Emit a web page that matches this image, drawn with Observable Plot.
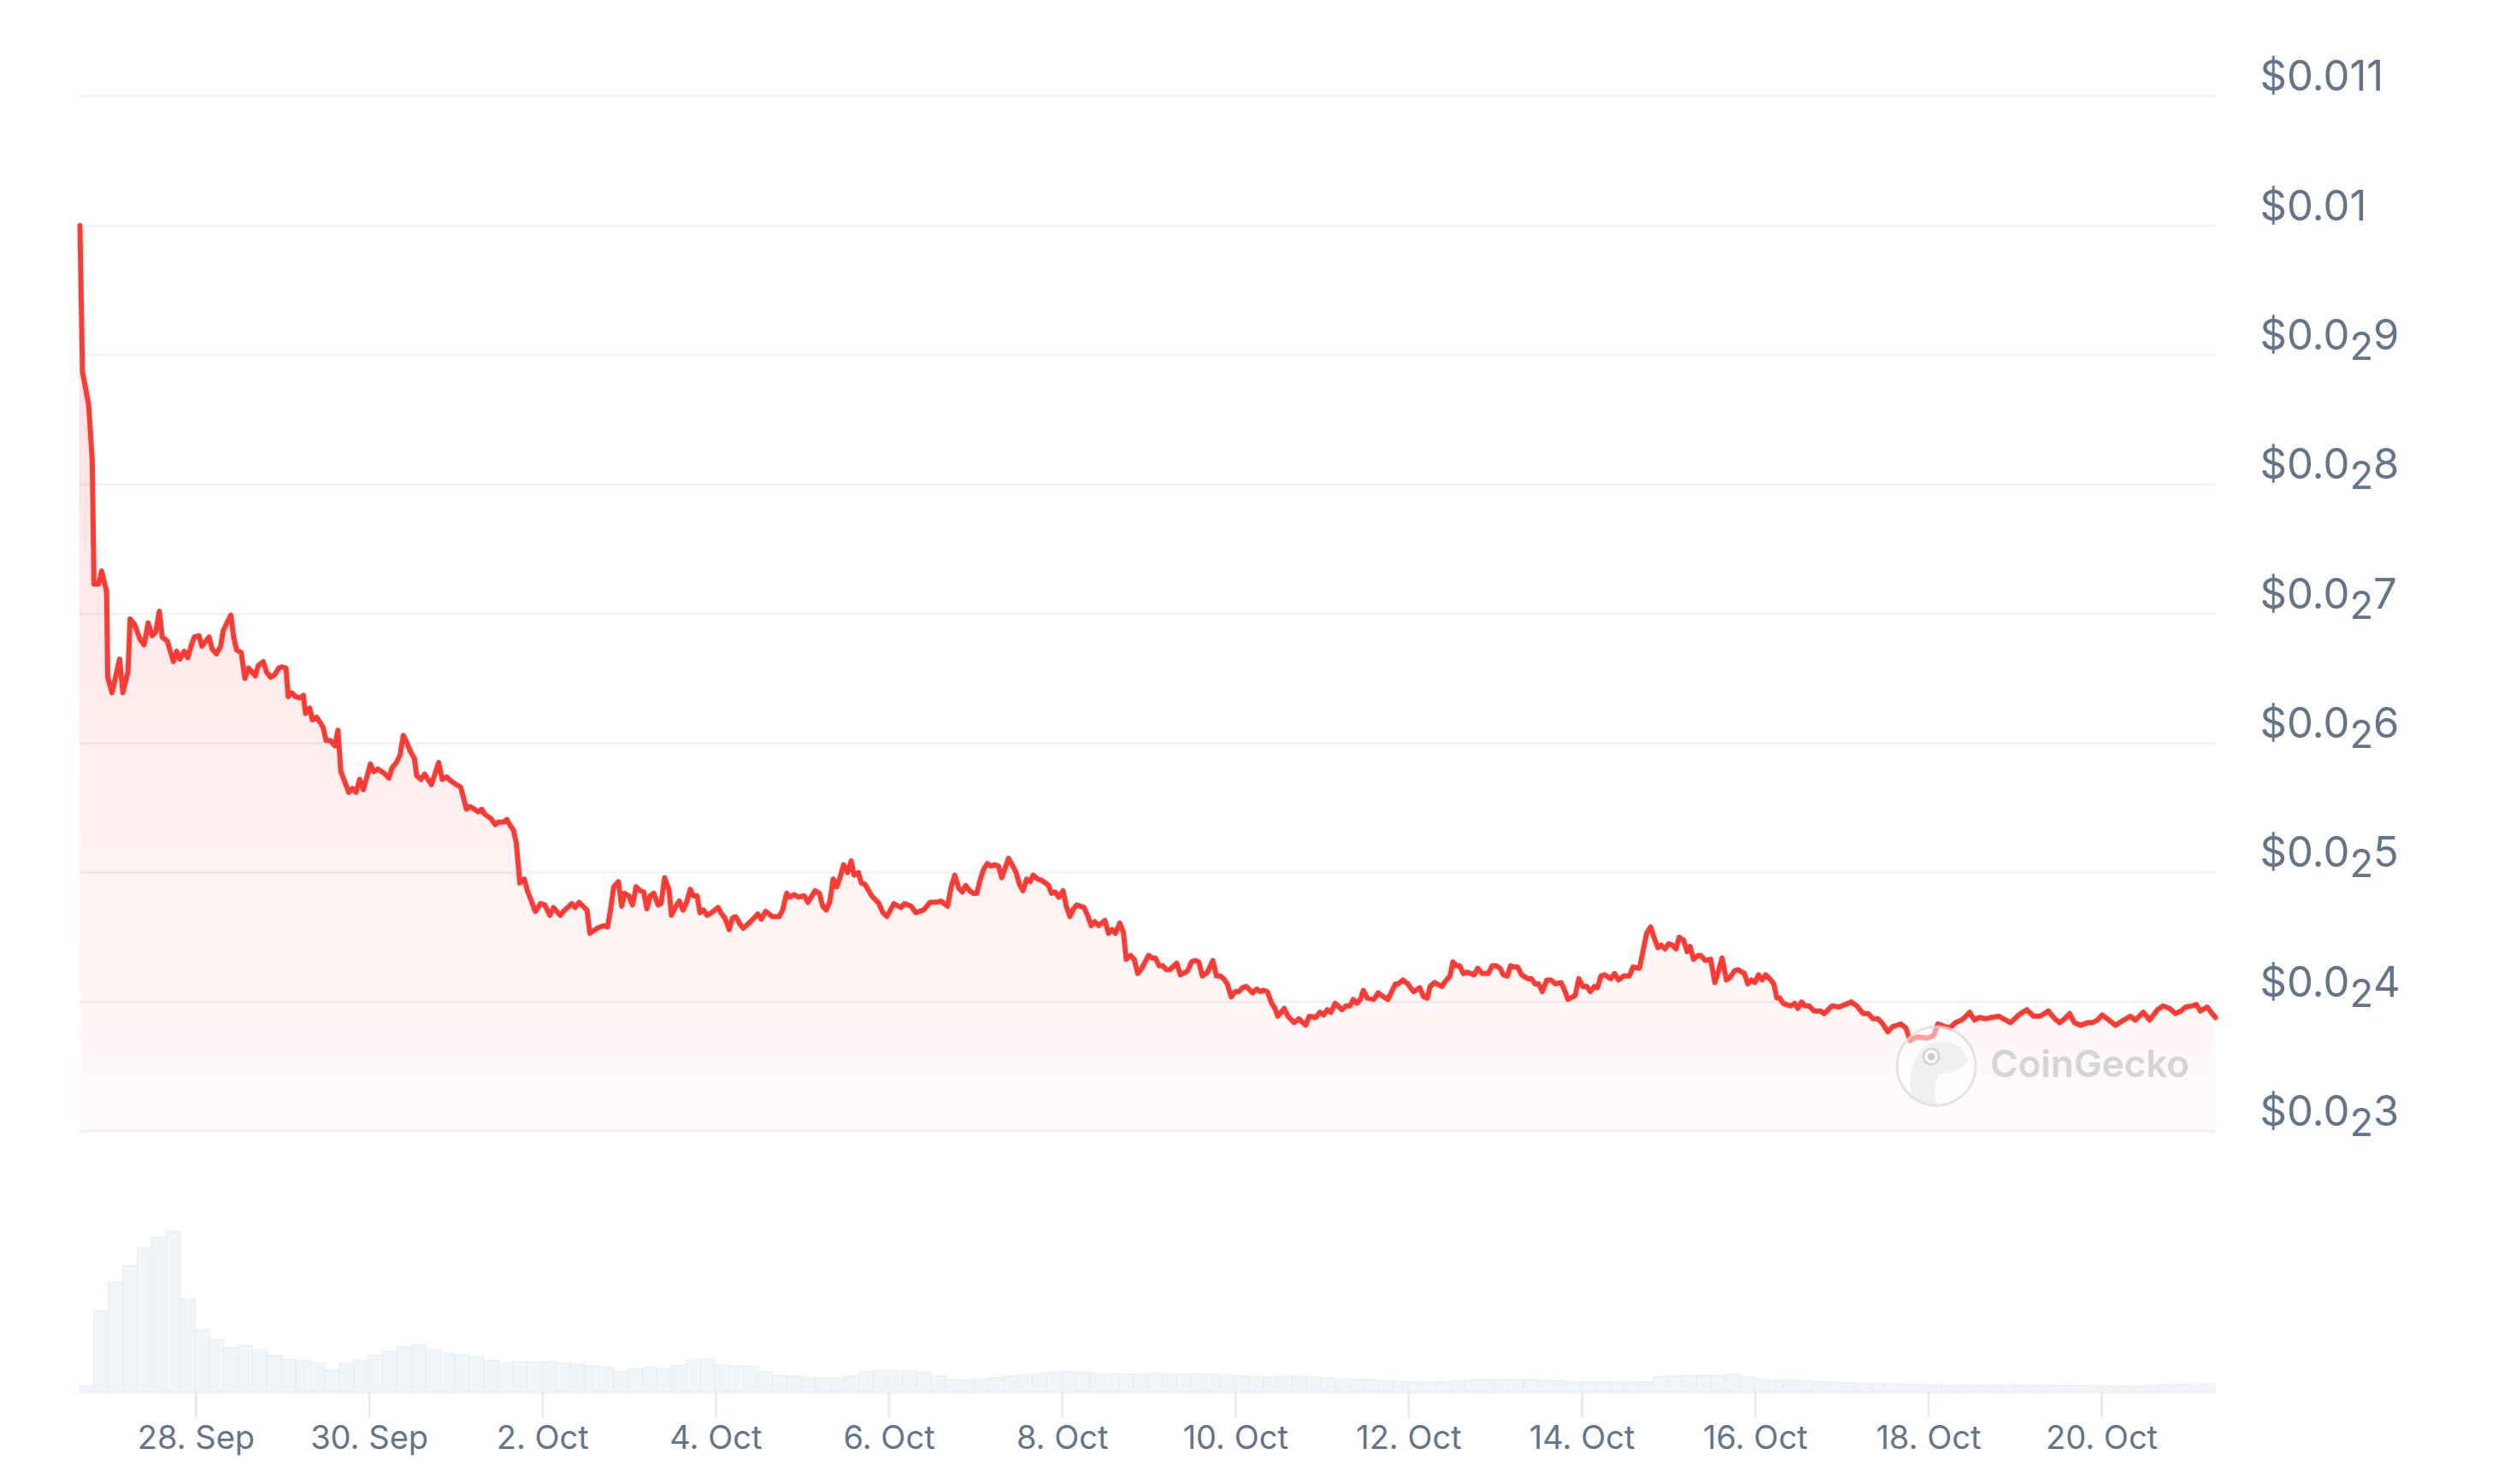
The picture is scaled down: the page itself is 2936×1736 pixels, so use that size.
<!DOCTYPE html>
<html>
<head>
<meta charset="utf-8">
<script src="https://cdn.jsdelivr.net/npm/d3@7"></script>
<script src="https://cdn.jsdelivr.net/npm/@observablehq/plot@0.6"></script>
<style>
html, body { margin: 0; padding: 0; background: #fff; }
#wrap { position: relative; width: 2936px; height: 1736px; overflow: hidden; font-family: Inter, "Noto Sans", sans-serif; }
#wrap > div > svg { display: block; }
#wm { position: absolute; left: 0; top: 0; pointer-events: none; }
</style>
</head>
<body>
<div id="wrap">
  <div id="top"></div>
  <div id="bottom"></div>
  <svg id="wm" width="2936" height="1736" xmlns="http://www.w3.org/2000/svg">
    <circle cx="2265" cy="1247" r="46" fill="#ffffff" fill-opacity="0.5" stroke="#d9d9d9" stroke-opacity="0.7" stroke-width="3"/>
    <path d="M2236,1282 C2232,1262 2236,1226 2262,1219 C2282,1214 2298,1226 2302,1240 C2296,1252 2282,1256 2270,1256 C2262,1262 2262,1278 2266,1292 C2254,1292 2242,1288 2236,1282 Z" fill="#e6e6e6" fill-opacity="0.55"/>
    <circle cx="2259" cy="1236" r="9" fill="#ffffff" stroke="#d6d6d6" stroke-width="3"/>
    <circle cx="2259" cy="1236" r="4.5" fill="#cfcfcf"/>
    <text x="2328" y="1260" font-family="Inter, sans-serif" font-size="44" font-weight="600" fill="#d4d4d4">CoinGecko</text>
  </svg>
</div>
<script>
// ---------- data ----------
const seriesStartUTC = "2024-09-26T15:48:00Z";
const seriesEndHours = 591.7;

// hours since series start
const priceHours = [
  0, 0.7, 2.4, 3.4, 3.9, 5.2, 6.0, 7.4, 7.7, 8.9,
  11.0, 11.9, 13.3, 13.9, 15.1, 16.7, 17.8, 18.9, 20.0, 21.0,
  22.0, 22.8, 24.2, 25.9, 26.8, 27.7, 28.9, 29.9, 30.9, 31.7,
  33.0, 33.8, 35.8, 36.6, 37.8, 39.0, 39.7, 41.8, 42.6, 43.4,
  44.7, 45.7, 46.7, 48.6, 49.4, 50.8, 51.7, 52.8, 54.0, 55.1,
  56.0, 57.1, 57.7, 58.7, 59.7, 60.9, 61.9, 62.5, 63.7, 64.4,
  65.6, 66.8, 67.4, 68.2, 69.4, 70.6, 71.5, 72.3, 74.5, 75.5,
  76.5, 77.5, 78.5, 80.5, 81.4, 82.6, 84.2, 85.6, 86.5, 87.7,
  88.7, 89.6, 90.5, 91.5, 92.7, 93.3, 94.5, 95.5, 97.4, 99.4,
  100.4, 101.6, 102.7, 104.3, 105.5, 107.1, 108.1, 110.4, 111.3, 112.2,
  113.8, 115.1, 116.0, 117.3, 118.3, 119.3, 120.1, 120.9, 121.9, 123.1,
  124.1, 126.2, 127.6, 128.8, 130.2, 131.2, 133.1, 134.3, 136.3, 137.2,
  138.3, 140.5, 141.3, 143.3, 145.2, 146.2, 147.0, 147.9, 149.2, 150.1,
  150.9, 152.1, 153.1, 154.1, 155.3, 156.2, 157.1, 158.0, 159.0, 160.2,
  161.0, 162.0, 163.2, 163.9, 165.1, 166.1, 167.1, 168.1, 169.1, 170.0,
  171.0, 171.8, 172.8, 173.8, 175.0, 176.8, 177.8, 178.7, 179.9, 180.8,
  181.7, 182.9, 183.8, 185.8, 187.8, 188.8, 190.0, 191.8, 193.8, 194.7,
  195.8, 196.7, 197.9, 199.1, 200.7, 201.7, 203.7, 204.9, 205.8, 206.8,
  207.8, 208.7, 209.7, 210.5, 211.6, 212.7, 213.7, 214.5, 215.7, 216.5,
  217.5, 219.4, 221.4, 222.5, 223.6, 225.5, 227.5, 228.5, 230.3, 231.6,
  233.7, 235.6, 237.0, 238.6, 240.4, 241.4, 242.4, 243.5, 244.5, 245.4,
  246.5, 247.5, 248.5, 249.4, 250.3, 251.4, 252.4, 253.5, 254.5, 255.4,
  257.3, 258.3, 259.4, 260.3, 261.3, 262.3, 263.3, 264.1, 265.4, 266.5,
  268.4, 269.2, 270.2, 271.2, 272.4, 273.3, 274.3, 275.3, 276.2, 278.2,
  279.2, 280.2, 281.2, 282.2, 284.0, 285.0, 286.0, 286.9, 288.1, 289.1,
  289.9, 291.1, 292.1, 293.1, 294.2, 296.1, 297.0, 298.0, 299.0, 300.0,
  301.1, 302.0, 303.9, 304.9, 306.9, 308.0, 309.1, 310.0, 311.0, 312.4,
  313.9, 314.9, 316.0, 316.9, 317.9, 319.0, 320.1, 321.1, 322.1, 323.2,
  324.9, 326.1, 327.0, 327.9, 329.0, 330.2, 331.1, 331.9, 333.7, 334.7,
  336.5, 337.7, 339.6, 340.6, 342.4, 343.6, 344.6, 345.6, 346.6, 347.8,
  349.7, 350.8, 351.9, 352.8, 353.8, 354.8, 355.6, 356.7, 358.5, 359.7,
  361.2, 362.4, 364.5, 365.3, 366.5, 367.9, 369.5, 371.2, 372.3, 373.3,
  374.1, 375.3, 377.4, 378.3, 379.6, 380.4, 381.3, 382.3, 383.3, 384.4,
  386.3, 387.3, 388.5, 390.2, 391.3, 392.4, 393.5, 394.4, 395.5, 396.4,
  397.4, 398.4, 399.4, 401.2, 402.2, 403.2, 404.2, 405.2, 406.4, 407.6,
  408.8, 410.4, 411.5, 412.3, 414.3, 415.3, 416.4, 417.5, 418.5, 419.6,
  420.5, 421.4, 422.4, 424.2, 425.2, 426.3, 427.7, 429.3, 430.3, 432.1,
  434.1, 435.2, 436.0, 437.2, 438.1, 439.2, 440.2, 441.2, 442.2, 443.1,
  444.3, 445.3, 446.1, 447.1, 448.3, 449.1, 450.3, 451.8, 453.0, 454.0,
  455.0, 456.2, 457.2, 458.4, 459.4, 461.2, 462.1, 463.2, 464.1, 465.1,
  466.1, 467.1, 468.5, 469.3, 470.2, 471.0, 471.9, 472.8, 474.0, 475.1,
  476.0, 477.0, 478.0, 479.1, 480.5, 482.3, 483.3, 485.5, 487.3, 490.8,
  492.3, 494.1, 495.5, 496.8, 498.2, 499.5, 500.9, 502.3, 504.5, 505.9,
  507.1, 508.1, 509.5, 511.8, 513.6, 514.8, 516.8, 518.1, 519.7, 521.3,
  522.2, 523.6, 524.9, 526.3, 528.1, 529.6, 531.7, 534.9, 537.2, 539.4,
  541.3, 543.1, 545.4, 547.2, 548.5, 549.9, 551.3, 552.6, 554.4, 556.3,
  557.6, 559.0, 560.3, 562.2, 564.0, 566.3, 568.1, 569.5, 571.7, 573.5,
  575.6, 577.2, 579.0, 580.6, 582.1, 583.4, 585.3, 586.4, 587.5, 589.4, 590.8, 591.7
];

// price in USD
const priceValues = [
  0.01000, 0.00887, 0.00862, 0.00819, 0.00723, 0.00723, 0.00733, 0.00717, 0.00651, 0.00639,
  0.00665, 0.00639, 0.00655, 0.00696, 0.00692, 0.00680, 0.00676, 0.00693, 0.00683, 0.00686,
  0.00702, 0.00682, 0.00679, 0.00663, 0.00671, 0.00665, 0.00671, 0.00666, 0.00676, 0.00682,
  0.00683, 0.00675, 0.00682, 0.00673, 0.00669, 0.00675, 0.00687, 0.00699, 0.00682, 0.00672,
  0.00670, 0.00650, 0.00658, 0.00652, 0.00660, 0.00663, 0.00655, 0.00651, 0.00653, 0.00658,
  0.00659, 0.00658, 0.00636, 0.00639, 0.00636, 0.00635, 0.00637, 0.00623, 0.00627, 0.00618,
  0.00620, 0.00615, 0.00612, 0.00602, 0.00602, 0.00598, 0.00610, 0.00578, 0.00562, 0.00565,
  0.00562, 0.00572, 0.00564, 0.00584, 0.00578, 0.00580, 0.00577, 0.00573, 0.00581, 0.00585,
  0.00591, 0.00606, 0.00601, 0.00594, 0.00588, 0.00575, 0.00572, 0.00576, 0.00568, 0.00585,
  0.00572, 0.00574, 0.00571, 0.00568, 0.00566, 0.00549, 0.00551, 0.00547, 0.00549, 0.00545,
  0.00542, 0.00537, 0.00539, 0.00539, 0.00541, 0.00536, 0.00533, 0.00523, 0.00492, 0.00495,
  0.00485, 0.00470, 0.00476, 0.00475, 0.00467, 0.00473, 0.00467, 0.00471, 0.00476, 0.00473,
  0.00477, 0.00471, 0.00453, 0.00457, 0.00459, 0.00458, 0.00471, 0.00489, 0.00493, 0.00474,
  0.00484, 0.00482, 0.00475, 0.00489, 0.00486, 0.00485, 0.00472, 0.00482, 0.00484, 0.00475,
  0.00476, 0.00496, 0.00487, 0.00467, 0.00474, 0.00478, 0.00471, 0.00477, 0.00487, 0.00482,
  0.00482, 0.00469, 0.00471, 0.00467, 0.00469, 0.00473, 0.00468, 0.00465, 0.00456, 0.00465,
  0.00466, 0.00460, 0.00457, 0.00462, 0.00468, 0.00464, 0.00470, 0.00466, 0.00466, 0.00471,
  0.00484, 0.00481, 0.00483, 0.00481, 0.00482, 0.00477, 0.00486, 0.00484, 0.00474, 0.00471,
  0.00478, 0.00495, 0.00489, 0.00495, 0.00506, 0.00500, 0.00509, 0.00498, 0.00500, 0.00492,
  0.00491, 0.00482, 0.00476, 0.00469, 0.00466, 0.00476, 0.00473, 0.00476, 0.00474, 0.00469,
  0.00471, 0.00477, 0.00477, 0.00478, 0.00474, 0.00489, 0.00498, 0.00488, 0.00485, 0.00490,
  0.00486, 0.00484, 0.00484, 0.00494, 0.00502, 0.00507, 0.00505, 0.00506, 0.00505, 0.00496,
  0.00511, 0.00506, 0.00500, 0.00491, 0.00486, 0.00495, 0.00493, 0.00498, 0.00495, 0.00494,
  0.00490, 0.00484, 0.00485, 0.00481, 0.00486, 0.00474, 0.00466, 0.00472, 0.00475, 0.00473,
  0.00467, 0.00459, 0.00462, 0.00459, 0.00463, 0.00453, 0.00456, 0.00453, 0.00461, 0.00454,
  0.00433, 0.00436, 0.00433, 0.00422, 0.00426, 0.00436, 0.00434, 0.00434, 0.00428, 0.00428,
  0.00425, 0.00425, 0.00430, 0.00421, 0.00424, 0.00431, 0.00432, 0.00431, 0.00420, 0.00423,
  0.00432, 0.00420, 0.00420, 0.00418, 0.00414, 0.00404, 0.00408, 0.00408, 0.00411, 0.00412,
  0.00407, 0.00410, 0.00408, 0.00409, 0.00408, 0.00399, 0.00395, 0.00389, 0.00395, 0.00389,
  0.00384, 0.00387, 0.00382, 0.00389, 0.00388, 0.00392, 0.00390, 0.00394, 0.00392, 0.00399,
  0.00394, 0.00397, 0.00397, 0.00402, 0.00399, 0.00402, 0.00409, 0.00403, 0.00402, 0.00407,
  0.00404, 0.00402, 0.00414, 0.00414, 0.00417, 0.00414, 0.00408, 0.00411, 0.00404, 0.00403,
  0.00412, 0.00415, 0.00412, 0.00416, 0.00420, 0.00431, 0.00428, 0.00428, 0.00422, 0.00423,
  0.00421, 0.00426, 0.00422, 0.00422, 0.00428, 0.00428, 0.00426, 0.00421, 0.00420, 0.00428,
  0.00427, 0.00427, 0.00421, 0.00418, 0.00418, 0.00414, 0.00414, 0.00408, 0.00417, 0.00417,
  0.00414, 0.00415, 0.00408, 0.00402, 0.00405, 0.00418, 0.00412, 0.00412, 0.00408, 0.00412,
  0.00411, 0.00420, 0.00421, 0.00418, 0.00422, 0.00417, 0.00420, 0.00420, 0.00427, 0.00426,
  0.00453, 0.00458, 0.00451, 0.00442, 0.00444, 0.00441, 0.00445, 0.00444, 0.00441, 0.00450,
  0.00448, 0.00439, 0.00443, 0.00433, 0.00436, 0.00436, 0.00432, 0.00433, 0.00415, 0.00424,
  0.00434, 0.00417, 0.00419, 0.00424, 0.00425, 0.00422, 0.00414, 0.00417, 0.00415, 0.00421,
  0.00417, 0.00421, 0.00417, 0.00414, 0.00403, 0.00403, 0.00399, 0.00398, 0.00397, 0.00399,
  0.00395, 0.00400, 0.00397, 0.00397, 0.00393, 0.00393, 0.00391, 0.00397, 0.00396, 0.00400,
  0.00397, 0.00391, 0.00391, 0.00387, 0.00387, 0.00383, 0.00377, 0.00381, 0.00383, 0.00380,
  0.00370, 0.00372, 0.00373, 0.00372, 0.00374, 0.00383, 0.00381, 0.00380, 0.00384, 0.00386,
  0.00388, 0.00392, 0.00386, 0.00388, 0.00387, 0.00388, 0.00389, 0.00384, 0.00390, 0.00394,
  0.00389, 0.00389, 0.00393, 0.00387, 0.00384, 0.00387, 0.00391, 0.00384, 0.00382, 0.00384,
  0.00384, 0.00386, 0.00390, 0.00386, 0.00382, 0.00386, 0.00389, 0.00386, 0.00392, 0.00386,
  0.00394, 0.00397, 0.00395, 0.00391, 0.00393, 0.00396, 0.00397, 0.00398, 0.00393, 0.00396, 0.00391, 0.00388
];

// trading volume, 4-hour buckets from series start (relative units)
const volumeStepHours = 4;
const volumeValues = [
  20, 280, 380, 435, 498, 533, 555, 320, 215, 180,
  152, 160, 145, 125, 113, 108, 100, 75, 100, 110,
  126, 140, 155, 163, 145, 134, 128, 121, 108, 100,
  105, 102, 105, 100, 95, 90, 85, 70, 80, 85,
  80, 90, 110, 113, 94, 89, 88, 70, 58, 54,
  50, 48, 47, 54, 70, 74, 74, 73, 68, 55,
  43, 41, 44, 49, 54, 59, 64, 68, 70, 68,
  64, 62, 60, 62, 64, 62, 62, 62, 62, 59,
  54, 52, 52, 53, 53, 51, 48, 44, 43, 42,
  39, 36, 35, 35, 35, 38, 42, 43, 42, 43,
  42, 40, 37, 35, 35, 35, 35, 35, 34, 52,
  55, 57, 58, 58, 61, 51, 44, 40, 40, 39,
  36, 33, 31, 29, 28, 27, 25, 24, 23, 23,
  23, 23, 23, 23, 23, 23, 23, 22, 22, 21,
  20, 20, 20, 22, 24, 25, 26, 27
];

const yTicks = [0.003, 0.004, 0.005, 0.006, 0.007, 0.008, 0.009, 0.010, 0.011];
const xTickDays = ["2024-09-28", "2024-09-30", "2024-10-02", "2024-10-04", "2024-10-06", "2024-10-08",
                   "2024-10-10", "2024-10-12", "2024-10-14", "2024-10-16", "2024-10-18", "2024-10-20"];

// ---------- build ----------
const HOUR = 3600e3;
const t0 = Date.parse(seriesStartUTC);
const xDomain = [new Date(t0), new Date(t0 + seriesEndHours * HOUR)];
const n = Math.min(priceHours.length, priceValues.length);
const price = d3.range(n).map(i => ({date: new Date(t0 + priceHours[i] * HOUR), price: priceValues[i]}));
const volume = volumeValues.map((v, i) => ({
  start: new Date(t0 + i * volumeStepHours * HOUR),
  end: new Date(t0 + Math.min((i + 1) * volumeStepHours, seriesEndHours) * HOUR),
  v
}));
const xTicks = xTickDays.map(d => new Date(d + "T00:00:00Z"));

const subDigits = "\u2080\u2081\u2082\u2083\u2084\u2085\u2086\u2087\u2088\u2089";
function priceFormat(v) {
  const s = (+v.toFixed(3)).toString();           // e.g. "0.011", "0.01", "0.009"
  const m = /^0\.(0+)(\d+)$/.exec(s);
  if (m && m[1].length >= 2) return "$0.0" + subDigits[m[1].length] + m[2];
  return "$" + s;
}

const font = "Inter, 'Noto Sans', sans-serif";
const W = 2936, ML = 93, MR = 345;

const topChart = Plot.plot({
  width: W, height: 1330,
  marginTop: 112, marginBottom: 7, marginLeft: ML, marginRight: MR,
  style: {fontFamily: font, background: "transparent", overflow: "visible"},
  x: {type: "utc", domain: xDomain, axis: null},
  y: {domain: [0.003, 0.011], axis: null},
  marks: [
    Plot.gridY(yTicks, {stroke: "#eef1f5", strokeWidth: 2.5, strokeOpacity: 1}),
    Plot.areaY(price, {x: "date", y1: 0.003, y2: "price", fill: "url(#priceGrad)", curve: "linear"}),
    Plot.line(price, {x: "date", y: "price", stroke: "#ff3a33", strokeWidth: 6, strokeLinejoin: "round", strokeLinecap: "round"}),
    Plot.axisY(yTicks, {anchor: "right", label: null, tickSize: 0, tickPadding: 52, dy: -22, textAnchor: "start",
                        fontSize: 49, fill: "#64748b", fontVariant: "normal", tickFormat: priceFormat})
  ]
});

d3.select(topChart).insert("defs", ":first-child").html(
  '<linearGradient id="priceGrad" gradientUnits="userSpaceOnUse" x1="0" y1="112" x2="0" y2="1323">' +
  '<stop offset="0" stop-color="#ff3a33" stop-opacity="0.19"/>' +
  '<stop offset="1" stop-color="#ff3a33" stop-opacity="0.025"/></linearGradient>'
);

// render subscript zero-count as a lowered digit
topChart.querySelectorAll('[aria-label="y-axis tick label"] text').forEach(t => {
  const s = t.textContent;
  const idx = [...s].findIndex(c => subDigits.includes(c));
  if (idx < 0) return;
  const chars = [...s];
  const pre = chars.slice(0, idx).join("");
  const sub = String(subDigits.indexOf(chars[idx]));
  const post = chars.slice(idx + 1).join("");
  const NS = "http://www.w3.org/2000/svg";
  t.textContent = "";
  t.appendChild(document.createTextNode(pre));
  const a = document.createElementNS(NS, "tspan");
  a.setAttribute("dy", "12"); a.setAttribute("font-size", "0.92em"); a.textContent = sub;
  const b = document.createElementNS(NS, "tspan");
  b.setAttribute("dy", "-12"); b.textContent = post;
  t.appendChild(a); t.appendChild(b);
});

const bottomChart = Plot.plot({
  width: W, height: 406,
  marginTop: 0, marginBottom: 108, marginLeft: ML, marginRight: MR,
  style: {fontFamily: font, background: "transparent", overflow: "visible"},
  x: {type: "utc", domain: xDomain},
  y: {domain: [0, 880], axis: null},
  marks: [
    Plot.rectY(volume, {x1: "start", x2: "end", y: "v", fill: "#f2f5f8", stroke: "#e8ecf1", strokeWidth: 1}),
    Plot.ruleY([0], {stroke: "#eef1f5", strokeWidth: 3}),
    Plot.axisX(xTicks, {label: null, tickSize: 30, tickPadding: 10, fontSize: 38, stroke: "#e6eaef", strokeWidth: 2.5,
                        fill: "#64748b", fontVariant: "normal", tickFormat: d3.utcFormat("%-d. %b")})
  ]
});

document.getElementById("top").appendChild(topChart);
document.getElementById("bottom").appendChild(bottomChart);
</script>
</body>
</html>
